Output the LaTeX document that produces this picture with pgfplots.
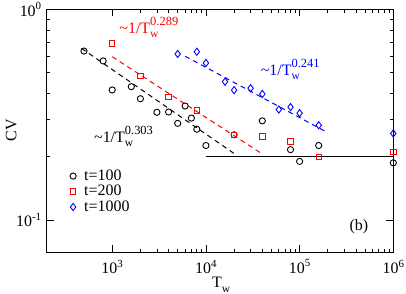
\documentclass[border=0pt]{standalone}
\usepackage{fontspec}
\setmainfont{Liberation Serif}
\usepackage{pgfplots}
\pgfplotsset{compat=1.18}
\newcommand\sub[1]{\raisebox{-0.28em}{\fontsize{11.5}{12}\selectfont #1}}
\newcommand\sups[1]{\raisebox{0.5em}{\fontsize{12.5}{13}\selectfont #1}}
\newcommand\tsup[1]{\raisebox{0.42em}{\fontsize{11}{12}\selectfont #1}}
\newcommand\fit[1]{\textasciitilde 1/T\rlap{\sub{w}}\sups{#1}}
\begin{document}
\fontsize{16}{19}\selectfont
\begin{tikzpicture}
\begin{axis}[
  at={(0,0)}, anchor=south west,
  scale only axis, width=346.6bp, height=242.8bp,
  xmode=log, ymode=log,
  xmin=200, xmax=1e6, ymin=0.0703, ymax=1,
  xtick={1000,10000,100000,1000000},
  xticklabels={10\tsup{3},10\tsup{4},10\tsup{5},10\tsup{6}},
  ytick={0.1,1},
  yticklabels={10\tsup{-1},10\tsup{0}},
  tick label style={font=\fontsize{16}{19}\selectfont},
  xticklabel style={yshift=-2bp},
  label style={font=\fontsize{16}{19}\selectfont},
  tick align=inside,
  major tick length=7bp, minor tick length=3.5bp,
  axis line style={line width=0.9bp},
  every tick/.style={line width=0.8bp, black},
  xlabel={T\sub{w}},
  xlabel style={at={(rel axis cs:0.503,-0.147)}, anchor=base},
  ylabel={CV},
  ylabel style={at={(rel axis cs:-0.1024,0.504)}, anchor=center, rotate=0},
  legend style={at={(rel axis cs:0.058,0.358)}, anchor=north west, draw=none, fill=none,
    font=\fontsize{16}{19}\selectfont, row sep=-1.5bp,
    /tikz/every odd column/.append style={column sep=6bp}},
  legend cell align=left,
]
\addplot[black, line width=1bp, dash pattern=on 5bp off 4bp, forget plot]
  coordinates {(470,0.654) (20000,0.207)};
\addplot[red, line width=1bp, dash pattern=on 5bp off 4bp, forget plot]
  coordinates {(1000,0.597) (40000,0.206)};
\addplot[blue, line width=1bp, dash pattern=on 5bp off 4bp, forget plot]
  coordinates {(6000,0.60) (200000,0.26)};
\addplot[black, line width=1bp, forget plot]
  coordinates {(10000,0.2) (1000000,0.2)};
\addplot[only marks, mark=o, mark size=3.1bp, black, mark options={line width=0.9bp}]
  coordinates {
  (500,0.635) (800,0.57) (1000,0.415) (1600,0.43) (2000,0.377) (3000,0.325)
  (4000,0.326) (5000,0.288) (6000,0.348) (7000,0.305) (8000,0.27) (10000,0.226)
  (20000,0.254) (40000,0.296) (80000,0.216) (100000,0.19) (160000,0.226) (1000000,0.187)
  };
\addlegendentry{t=100}
\addplot[only marks, mark=square, mark size=2.7bp, red, mark options={line width=0.9bp}]
  coordinates {
  (1000,0.691) (2000,0.482) (4000,0.384) (8000,0.332) (20000,0.254) (40000,0.249)
  (80000,0.236) (160000,0.199) (1000000,0.211)
  };
\addlegendentry{t=200}
\addplot[only marks, mark=diamond, mark size=3.6bp, blue, mark options={line width=0.9bp}]
  coordinates {
  (5000,0.615) (8000,0.63) (10000,0.557) (16000,0.454) (20000,0.414) (30000,0.423)
  (40000,0.397) (60000,0.335) (80000,0.344) (100000,0.322) (160000,0.282) (1000000,0.258)
  };
\addlegendentry{t=1000}
\node[anchor=base west, text=red] at (rel axis cs:0.194,0.903) {\fit{0.289}};
\node[anchor=base west, text=black] at (rel axis cs:0.121,0.454) {\fit{0.303}};
\node[anchor=base west, text=blue] at (rel axis cs:0.602,0.730) {\fit{0.241}};
\node[anchor=base west] at (rel axis cs:0.858,0.089) {(b)};
\end{axis}
\pgfresetboundingbox
\path[use as bounding box] (-46.7bp,-41.7bp) rectangle (359.3bp,252.3bp);
\end{tikzpicture}
\end{document}
